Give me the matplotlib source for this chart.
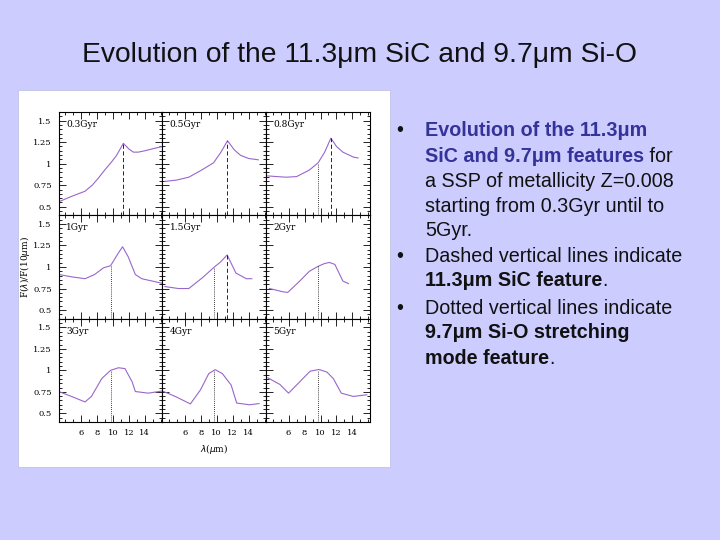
import matplotlib
matplotlib.use("Agg")
import matplotlib.pyplot as plt
import numpy as np
from matplotlib.patches import Rectangle
from matplotlib.ticker import MultipleLocator, FixedLocator

# ---- data (wavelength in micron, F(lambda)/F(10um))
ages = ["0.3Gyr", "0.5Gyr", "0.8Gyr", "1Gyr", "1.5Gyr", "2Gyr", "3Gyr", "4Gyr", "5Gyr"]

wl_03 = [3.2, 4.8, 6.5, 7.4, 8.15, 9.0, 9.82, 10.45, 11.3, 12.0, 12.55, 13.18, 14.0, 14.86, 16.2]
fl_03 = [0.557, 0.62, 0.68, 0.75, 0.83, 0.93, 1.02, 1.096, 1.236, 1.17, 1.134, 1.134, 1.15, 1.17, 1.2]

wl_05 = [3.5, 5.0, 6.5, 8.0, 9.6, 10.5, 11.35, 12.2, 13.0, 14.0, 15.2]
fl_05 = [0.794, 0.81, 0.843, 0.92, 1.01, 1.13, 1.266, 1.16, 1.096, 1.06, 1.045]

wl_08 = [3.4, 4.5, 5.7, 7.0, 8.6, 9.7, 10.5, 11.3, 12.0, 12.8, 14.1, 14.7]
fl_08 = [0.858, 0.85, 0.843, 0.85, 0.926, 1.01, 1.13, 1.296, 1.2, 1.134, 1.077, 1.066]

wl_1 = [3.2, 4.8, 6.5, 7.7, 8.8, 9.7, 10.66, 11.2, 11.9, 12.8, 13.6, 14.9, 16.2]
fl_1 = [0.913, 0.886, 0.864, 0.913, 0.99, 1.015, 1.16, 1.235, 1.12, 0.913, 0.864, 0.837, 0.81]

wl_15 = [3.5, 5.2, 6.5, 8.2, 9.7, 10.5, 11.3, 12.4, 13.7, 14.4]
fl_15 = [0.773, 0.75, 0.75, 0.875, 1.0, 1.06, 1.14, 0.93, 0.864, 0.864]

wl_2 = [3.6, 5.3, 5.9, 7.4, 8.6, 9.7, 10.5, 11.1, 11.8, 12.8, 13.5]
fl_2 = [0.75, 0.712, 0.705, 0.837, 0.95, 1.008, 1.04, 1.053, 1.03, 0.837, 0.807]

wl_3 = [3.2, 4.8, 6.5, 7.3, 8.6, 9.7, 10.7, 11.5, 12.4, 12.8, 14.4, 16.2]
fl_3 = [0.754, 0.697, 0.633, 0.697, 0.905, 1.0, 1.03, 1.02, 0.867, 0.754, 0.735, 0.76]

wl_4 = [3.2, 4.8, 6.7, 7.96, 9.0, 9.8, 10.7, 11.8, 12.5, 14.1, 15.3]
fl_4 = [0.76, 0.697, 0.61, 0.773, 0.962, 1.008, 0.962, 0.83, 0.62, 0.6, 0.614]

wl_5 = [3.4, 4.9, 6.0, 7.4, 8.7, 9.8, 10.8, 11.6, 12.6, 14.1, 15.8]
fl_5 = [0.913, 0.837, 0.735, 0.867, 0.99, 1.01, 0.98, 0.905, 0.735, 0.697, 0.716]

wavelengths = [wl_03, wl_05, wl_08, wl_1, wl_15, wl_2, wl_3, wl_4, wl_5]
fluxes = [fl_03, fl_05, fl_08, fl_1, fl_15, fl_2, fl_3, fl_4, fl_5]

# which panels carry the 11.3um (dashed) and 9.7um (dotted) markers
sic_panels = [0, 1, 2, 4]
sio_panels = [2, 3, 4, 5, 6, 7, 8]
SIC = 11.3
SIO = 9.7

y_ticks = [0.5, 0.75, 1.0, 1.25, 1.5]
y_ticklabels = ["0.5", "0.75", "1", "1.25", "1.5"]
x_ticks = [6, 8, 10, 12, 14]

BG = "#CCCCFF"
CURVE = "#9966CC"
BLUE = "#333399"

fig = plt.figure(figsize=(7.2, 5.4), dpi=100, facecolor=BG)

# white box holding the scanned figure (behind the axes)
fig.patches.append(Rectangle((18 / 720, 1 - 467 / 540), 372 / 720, 377 / 540,
                             transform=fig.transFigure, facecolor="white",
                             edgecolor="#BBBBDD", linewidth=0.5, zorder=-5))

gs = fig.add_gridspec(3, 3, left=58.7 / 720, right=370 / 720,
                      top=1 - 112 / 540, bottom=1 - 422 / 540,
                      wspace=0, hspace=0)

for i in range(9):
    r, c = divmod(i, 3)
    ax = fig.add_subplot(gs[r, c])
    ax.set_zorder(1)
    ax.set_facecolor("white")
    ax.set_xlim(3.2, 16.2)
    ax.set_ylim(0.4, 1.6)
    wl, fl = np.asarray(wavelengths[i]), np.asarray(fluxes[i])
    ax.plot(wl, fl, color=CURVE, lw=0.8)
    y0 = ax.get_ylim()[0]
    if i in sic_panels:
        ax.vlines(SIC, y0, np.interp(SIC, wl, fl), colors="black",
                  linestyles=(0, (5, 3)), lw=0.6)
    if i in sio_panels:
        ax.vlines(SIO, y0, np.interp(SIO, wl, fl), colors="black",
                  linestyles=(0, (1, 1.5)), lw=0.6)
    ax.text(0.07, 0.855, ages[i], transform=ax.transAxes, fontsize=6.5,
            family="DejaVu Serif")

    ax.yaxis.set_major_locator(FixedLocator(y_ticks))
    ax.yaxis.set_minor_locator(MultipleLocator(0.05))
    ax.xaxis.set_major_locator(FixedLocator(x_ticks))
    ax.xaxis.set_minor_locator(MultipleLocator(1))
    ax.tick_params(which="both", direction="in", top=True, right=True,
                   labelsize=6, width=0.6, pad=5)
    ax.tick_params(which="major", length=5)
    ax.tick_params(which="minor", length=2.5)
    if c == 0:
        ax.set_yticklabels(y_ticklabels, family="DejaVu Serif")
    else:
        ax.set_yticklabels([])
    if r == 2:
        ax.set_xticklabels([str(t) for t in x_ticks], family="DejaVu Serif")
    else:
        ax.set_xticklabels([])
    for s in ax.spines.values():
        s.set_linewidth(0.8)

fig.text(25 / 720, 1 - 267 / 540, r"F($\lambda$)/F(10$\mu$m)", rotation=90,
         ha="center", va="center", fontsize=6.5, family="DejaVu Serif")
fig.text(214 / 720, 1 - 449 / 540, r"$\lambda$($\mu$m)", ha="center",
         va="center", fontsize=6.5, family="DejaVu Serif")

# slide title
fig.text(360 / 720, 1 - 55 / 540, "Evolution of the 11.3μm SiC and 9.7μm Si-O",
         ha="center", va="center", fontsize=20.3, family="Liberation Sans",
         color="#111111")

# bullet text on the right
renderer = fig.canvas.get_renderer()
TX = 425 / 720
FS = 14.2


def put_line(y_px, parts):
    x = TX
    for text, bold, color in parts:
        t = fig.text(x, 1 - y_px / 540, text, ha="left", va="center",
                     fontsize=FS, family="Liberation Sans",
                     fontweight="bold" if bold else "normal", color=color)
        x += t.get_window_extent(renderer=renderer).width / fig.bbox.width


bullets_y = [131, 256, 308]
for by in bullets_y:
    fig.text(396 / 720, 1 - by / 540, "•", ha="left", va="center",
             fontsize=FS, family="Liberation Sans", color="#111111")

K = "#111111"
put_line(131, [("Evolution of the 11.3μm", True, BLUE)])
put_line(156, [("SiC and 9.7μm features", True, BLUE), (" for", False, K)])
put_line(181, [("a SSP of metallicity Z=0.008", False, K)])
put_line(206, [("starting from 0.3Gyr until to", False, K)])
put_line(231, [("5Gyr.", False, K)])
put_line(256, [("Dashed vertical lines indicate", False, K)])
put_line(281, [("11.3μm SiC feature", True, K), (".", False, K)])
put_line(308, [("Dotted vertical lines indicate", False, K)])
put_line(333, [("9.7μm Si-O stretching", True, K)])
put_line(358, [("mode feature", True, K), (".", False, K)])

fig.savefig("out.png", dpi=100, facecolor=BG)
